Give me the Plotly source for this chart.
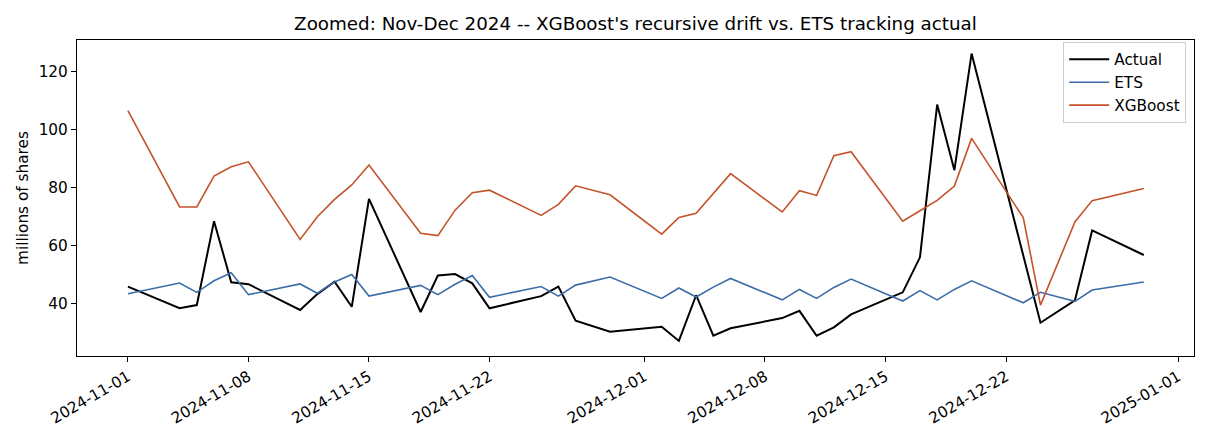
import plotly.graph_objects as go

dates = [
    "2024-11-01", "2024-11-04", "2024-11-05", "2024-11-06", "2024-11-07", "2024-11-08",
    "2024-11-11", "2024-11-12", "2024-11-13", "2024-11-14", "2024-11-15",
    "2024-11-18", "2024-11-19", "2024-11-20", "2024-11-21", "2024-11-22",
    "2024-11-25", "2024-11-26", "2024-11-27", "2024-11-29",
    "2024-12-02", "2024-12-03", "2024-12-04", "2024-12-05", "2024-12-06",
    "2024-12-09", "2024-12-10", "2024-12-11", "2024-12-12", "2024-12-13",
    "2024-12-16", "2024-12-17", "2024-12-18", "2024-12-19", "2024-12-20",
    "2024-12-23", "2024-12-24", "2024-12-26", "2024-12-27", "2024-12-30",
]

actual = [
    45.8, 38.3, 39.4, 68.4, 47.3, 46.6,
    37.7, 43.2, 47.5, 38.8, 76.1,
    37.0, 49.6, 50.1, 46.9, 38.3,
    42.5, 45.8, 34.0, 30.2,
    31.9, 27.0, 42.8, 28.8, 31.4,
    34.9, 37.4, 28.8, 31.7, 36.2,
    43.8, 55.9, 108.7, 86.0, 126.3,
    56.3, 33.3, 41.0, 65.2, 56.7,
]

ets = [
    43.3, 47.0, 43.8, 47.8, 50.6, 43.0,
    46.7, 43.5, 47.4, 50.0, 42.5,
    46.2, 43.0, 46.6, 49.6, 42.1,
    45.8, 42.5, 46.3, 49.1,
    41.7, 45.3, 42.2, 45.6, 48.6,
    41.2, 44.8, 41.7, 45.5, 48.4,
    40.8, 44.4, 41.2, 44.8, 47.8,
    40.2, 43.8, 40.7, 44.6, 47.4,
]

xgboost = [
    106.6, 73.3, 73.3, 84.0, 87.2, 88.9,
    62.1, 69.9, 75.9, 80.9, 87.8,
    64.2, 63.4, 72.2, 78.2, 79.1,
    70.4, 74.2, 80.6, 77.5,
    63.9, 69.7, 71.1, 78.0, 84.8,
    71.6, 78.9, 77.3, 91.0, 92.4,
    68.4, 72.0, 75.6, 80.5, 97.0,
    69.6, 39.4, 68.1, 75.5, 79.7,
]

tick_dates = ["2024-11-01", "2024-11-08", "2024-11-15", "2024-11-22",
              "2024-12-01", "2024-12-08", "2024-12-15", "2024-12-22", "2025-01-01"]

font = "DejaVu Sans"

fig = go.Figure()
fig.add_trace(go.Scatter(x=dates, y=actual, mode="lines", name="Actual",
                         line=dict(color="black", width=2)))
fig.add_trace(go.Scatter(x=dates, y=ets, mode="lines", name="ETS",
                         line=dict(color="#3b6ea8", width=1.6)))
fig.add_trace(go.Scatter(x=dates, y=xgboost, mode="lines", name="XGBoost",
                         line=dict(color="#c4532b", width=1.6)))

axis_common = dict(
    showgrid=False, zeroline=False,
    showline=True, linecolor="black", linewidth=1.2, mirror=True,
    ticks="outside", ticklen=5, tickcolor="black", tickwidth=1.2,
    tickfont=dict(family=font, size=15.3, color="black"),
)

# page is offset by the body margin (8px), so margins are shifted to compensate
fig.update_layout(
    width=1210, height=440,
    margin=dict(l=69, r=24, t=32, b=92),
    paper_bgcolor="white", plot_bgcolor="white",
    title=dict(text="Zoomed: Nov-Dec 2024 -- XGBoost's recursive drift vs. ETS tracking actual",
               x=0.5, xanchor="center", xref="paper", y=0.964, yanchor="middle",
               font=dict(family=font, size=18.3, color="black")),
    xaxis=dict(axis_common, type="date",
               range=["2024-10-29 01:00", "2025-01-01 22:00"],
               tickvals=tick_dates, ticktext=tick_dates, tickangle=-30),
    yaxis=dict(axis_common, range=[21.8, 131.0], tickvals=[40, 60, 80, 100, 120],
               title=dict(text="millions of shares", standoff=6,
                          font=dict(family=font, size=15.3, color="black"))),
    legend=dict(x=0.993, y=0.994, xanchor="right", yanchor="top",
                bgcolor="rgba(255,255,255,0.8)", bordercolor="#cccccc", borderwidth=1,
                font=dict(family=font, size=15.3, color="black"),
                tracegroupgap=0, itemwidth=40),
    showlegend=True,
)

fig.write_html("out.html")
